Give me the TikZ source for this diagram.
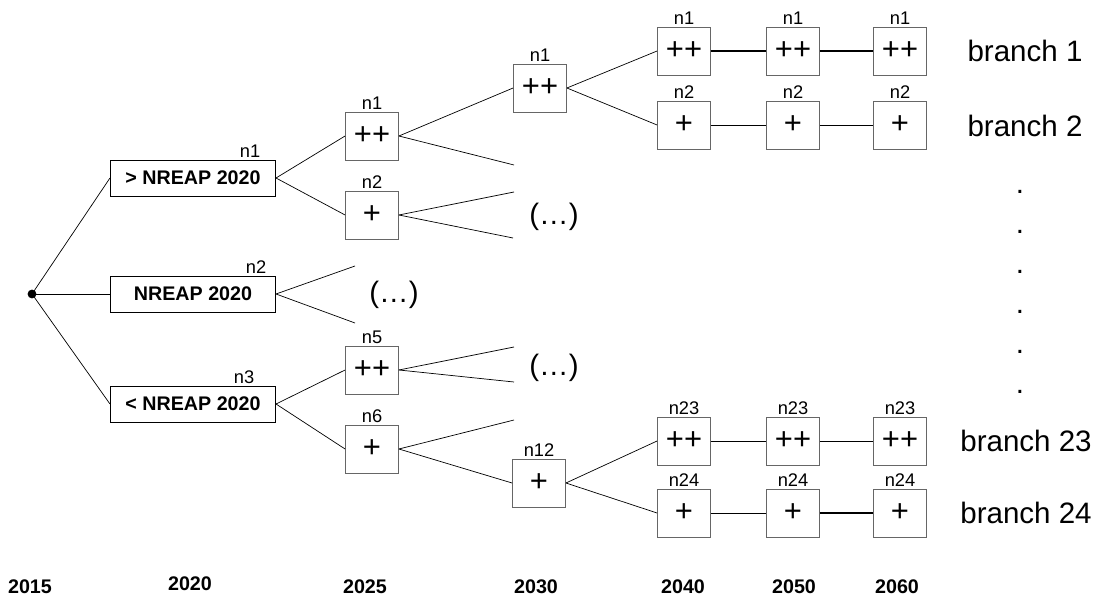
\documentclass[tikz,border=0pt]{standalone}
\usepackage{fontspec}
\setmainfont{Liberation Sans}
\usetikzlibrary{positioning}

\begin{document}
\begin{tikzpicture}[x=0.025cm, y=-0.025cm,
        box/.style={draw=black!60, line width=0.6pt, minimum width=1.325cm, minimum height=1.2cm, inner sep=0pt, font=\fontsize{22}{26}\selectfont},
        wide/.style={draw, line width=0.7pt, minimum width=4.125cm, minimum height=0.9cm, inner sep=0pt, font=\bfseries\fontsize{14}{16}\selectfont},
        lbl/.style={inner sep=1pt, font=\fontsize{13}{15}\selectfont},
        yr/.style={inner sep=0pt, font=\bfseries\fontsize{14}{16}\selectfont},
        big/.style={inner sep=0pt, font=\fontsize{21}{25}\selectfont},
        edge/.style={line width=0.5pt},
        thin/.style={line width=0.6pt},
        fat/.style={line width=1.5pt}]
        \useasboundingbox (0,0) rectangle (1097,603);

        % Root and 2020 scenarios
        \node[circle, fill, inner sep=0pt, minimum size=0.22cm] (root) at (32,294) {};
        \node[wide] (A) at (193,178) {> NREAP 2020};
        \node[wide] (B) at (193,294) {NREAP 2020};
        \node[wide] (C) at (193,404) {< NREAP 2020};
        \node[lbl, above left=0pt and 0.35cm of A.north east] (lA) {n1};
        \node[lbl, above left=0pt and 0.2cm of B.north east] (lB) {n2};
        \node[lbl, above left=0pt and 0.5cm of C.north east] (lC) {n3};

        % 2025
        \node[box] (D) at (372,136) {++};
        \node[box] (E) at (372,215) {+};
        \node[box] (F) at (372,370) {++};
        \node[box] (G) at (372,449) {+};
        \node[lbl, above=0pt of D] (lD) {n1};
        \node[lbl, above=0pt of E] (lE) {n2};
        \node[lbl, above=0pt of F] (lF) {n5};
        \node[lbl, above=0pt of G] (lG) {n6};

        % 2030
        \node[box] (H) at (540,88) {++};
        \node[box] (I) at (539,483) {+};
        \node[lbl, above=0pt of H] (lH) {n1};
        \node[lbl, above=0pt of I] (lI) {n12};

        % 2040 - 2060 (branches)
        \node[box] (P1) at (684,51) {++};
        \node[box] (Q1) at (793,51) {++};
        \node[box] (R1) at (900,51) {++};
        \node[box] (P2) at (684,125) {+};
        \node[box] (Q2) at (793,125) {+};
        \node[box] (R2) at (900,125) {+};
        \node[box] (P23) at (684,441) {++};
        \node[box] (Q23) at (793,441) {++};
        \node[box] (R23) at (900,441) {++};
        \node[box] (P24) at (684,513) {+};
        \node[box] (Q24) at (793,513) {+};
        \node[box] (R24) at (900,513) {+};
        \node[lbl, above=0pt of P1] (lP1) {n1};
        \node[lbl, above=0pt of Q1] (lQ1) {n1};
        \node[lbl, above=0pt of R1] (lR1) {n1};
        \node[lbl, above=0pt of P2] (lP2) {n2};
        \node[lbl, above=0pt of Q2] (lQ2) {n2};
        \node[lbl, above=0pt of R2] (lR2) {n2};
        \node[lbl, above=0pt of P23] (lP23) {n23};
        \node[lbl, above=0pt of Q23] (lQ23) {n23};
        \node[lbl, above=0pt of R23] (lR23) {n23};
        \node[lbl, above=0pt of P24] (lP24) {n24};
        \node[lbl, above=0pt of Q24] (lQ24) {n24};
        \node[lbl, above=0pt of R24] (lR24) {n24};

        % Branch names
        \node[big] (b1) at (1025,51) {branch 1};
        \node[big] (b2) at (1025,126) {branch 2};
        \node[big] (b23) at (1026,441) {branch 23};
        \node[big] (b24) at (1026,513) {branch 24};
        \node[big] (d1) at (1020,192) {.};
        \node[big] (d2) at (1020,232) {.};
        \node[big] (d3) at (1020,272) {.};
        \node[big] (d4) at (1020,312) {.};
        \node[big] (d5) at (1020,352) {.};
        \node[big] (d6) at (1020,392) {.};

        % Omitted subtrees
        \node[big] (o1) at (394,295) {(…)};
        \node[big] (o2) at (554,217) {(…)};
        \node[big] (o3) at (554,368) {(…)};
        \coordinate (s1) at (355,266);
        \coordinate (s2) at (355,323);
        \coordinate (s3) at (514,165);
        \coordinate (s4) at (514,192);
        \coordinate (s5) at (513,238);
        \coordinate (s6) at (514,347);
        \coordinate (s7) at (514,382);
        \coordinate (s8) at (514,420);

        % Years
        \node[yr] (y1) at (30,587) {2015};
        \node[yr] (y2) at (190,584) {2020};
        \node[yr] (y3) at (365,587) {2025};
        \node[yr] (y4) at (536,587) {2030};
        \node[yr] (y5) at (683,587) {2040};
        \node[yr] (y6) at (794,587) {2050};
        \node[yr] (y7) at (897,587) {2060};

        % Tree edges
        \draw[edge] (root.center) -- (A.west);
        \draw[edge] (root.center) -- (B.west);
        \draw[edge] (root.center) -- (C.west);
        \draw[edge] (A.east) -- (D.west);
        \draw[edge] (A.east) -- (E.west);
        \draw[edge] (B.east) -- (s1);
        \draw[edge] (B.east) -- (s2);
        \draw[edge] (C.east) -- (F.west);
        \draw[edge] (C.east) -- (G.west);
        \draw[edge] (D.east) -- (H.west);
        \draw[edge] (D.east) -- (s3);
        \draw[edge] (E.east) -- (s4);
        \draw[edge] (E.east) -- (s5);
        \draw[edge] (F.east) -- (s6);
        \draw[edge] (F.east) -- (s7);
        \draw[edge] (G.east) -- (s8);
        \draw[edge] (G.east) -- (I.west);
        \draw[edge] (H.east) -- (P1.west);
        \draw[edge] (H.east) -- (P2.west);
        \draw[edge] (I.east) -- (P23.west);
        \draw[edge] (I.east) -- (P24.west);

        % Branch lines
        \draw[fat] (P1) -- (Q1);
        \draw[fat] (Q1) -- (R1);
        \draw[thin] (P2) -- (Q2);
        \draw[thin] (Q2) -- (R2);
        \draw[thin] (P23) -- (Q23);
        \draw[thin] (Q23) -- (R23);
        \draw[thin] (P24) -- (Q24);
        \draw[fat] (Q24) -- (R24);
    \end{tikzpicture}
\end{document}
